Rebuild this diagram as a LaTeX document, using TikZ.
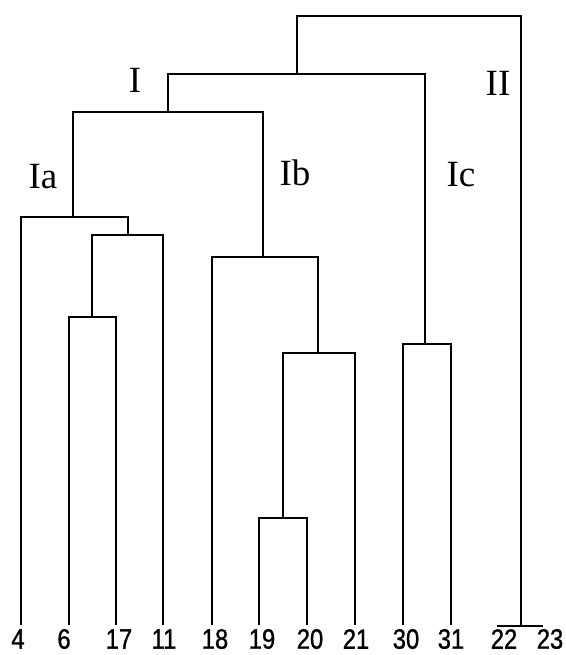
\documentclass[tikz,border=0pt]{standalone}
\usepackage{fontspec}
\setmainfont{Liberation Serif}
\newfontfamily\leaffont[FakeStretch=0.85,FakeBold=1]{Liberation Sans}
\begin{document}
\begin{tikzpicture}[x=1pt,y=-1pt,line width=1.7pt,
  leaflabel/.style={font=\leaffont\fontsize{28}{28}\selectfont,inner sep=0pt},
  clusterlabel/.style={font=\fontsize{37}{37}\selectfont,inner sep=0pt}]
  \useasboundingbox (0,0) rectangle (565,655);
  % leaves
  \coordinate (l4) at (21,625);
  \coordinate (l6) at (69,625);
  \coordinate (l17) at (116,625);
  \coordinate (l11) at (163,625);
  \coordinate (l18) at (212,625);
  \coordinate (l19) at (259,625);
  \coordinate (l20) at (307,625);
  \coordinate (l21) at (355,625);
  \coordinate (l30) at (403,625);
  \coordinate (l31) at (451,625);
  \coordinate (l22) at (497,626);
  \coordinate (l23) at (543,626);
  % merges
  \coordinate (c617) at (92,317);
  \coordinate (c611) at (128,235);
  \coordinate (cIa) at (73,217);
  \coordinate (c1920) at (283,518);
  \coordinate (c1921) at (318,353);
  \coordinate (cIb) at (263,257);
  \coordinate (cIab) at (168,112);
  \coordinate (cIc) at (425,344);
  \coordinate (cI) at (297,74);
  \coordinate (cII) at (521,626);
  \coordinate (root) at (409,16);
  \draw (l6) |- (c617) -| (l17);
  \draw (c617) |- (c611) -| (l11);
  \draw (l4) |- (cIa) -| (c611);
  \draw (l19) |- (c1920) -| (l20);
  \draw (c1920) |- (c1921) -| (l21);
  \draw (l18) |- (cIb) -| (c1921);
  \draw (cIa) |- (cIab) -| (cIb);
  \draw (l30) |- (cIc) -| (l31);
  \draw (cIab) |- (cI) -| (cIc);
  \draw (l22) -- (l23);
  \draw (cI) |- (root) -| (cII);
  \node[clusterlabel] (I) at (135,80) {I};
  \node[clusterlabel] (Ia) at (43,177) {Ia};
  \node[clusterlabel] (Ib) at (295,173) {Ib};
  \node[clusterlabel] (Ic) at (461,175) {Ic};
  \node[clusterlabel] (II) at (498,83) {II};
  \node[leaflabel] (t4) at (18,639) {4};
  \node[leaflabel] (t6) at (64,639) {6};
  \node[leaflabel] (t17) at (119,639) {17};
  \node[leaflabel] (t11) at (164,639) {11};
  \node[leaflabel] (t18) at (215,639) {18};
  \node[leaflabel] (t19) at (262,639) {19};
  \node[leaflabel] (t20) at (310,639) {20};
  \node[leaflabel] (t21) at (356,639) {21};
  \node[leaflabel] (t30) at (406,639) {30};
  \node[leaflabel] (t31) at (451,639) {31};
  \node[leaflabel] (t22) at (504,639) {22};
  \node[leaflabel] (t23) at (550,639) {23};
\end{tikzpicture}
\end{document}
